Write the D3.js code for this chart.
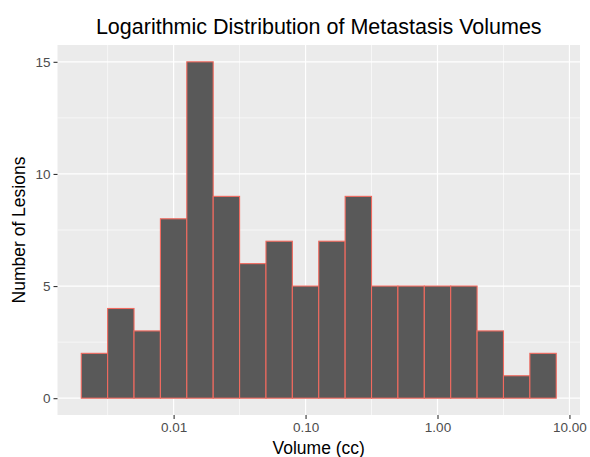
<!DOCTYPE html>
<html>
<head>
<meta charset="utf-8">
<script src="https://cdn.jsdelivr.net/npm/d3@7"></script>
<style>
  html, body { margin: 0; padding: 0; background: #ffffff; }
  svg { display: block; }
  text { font-family: "Liberation Sans", Arial, Helvetica, sans-serif; }
</style>
</head>
<body>
<script>
// ---- data ----
const chartTitle = "Logarithmic Distribution of Metastasis Volumes";
const xTitle = "Volume (cc)";
const yTitle = "Number of Lesions";
const binCounts = [2, 4, 3, 8, 15, 9, 6, 7, 5, 7, 9, 5, 5, 5, 5, 3, 1, 2];
const logBinStart = -2.7;   // log10 of first bin's lower edge (cc)
const logBinWidth = 0.2;    // bin width in log10 units
const xTickValues = [0.01, 0.1, 1, 10];
const xTickLabels = ["0.01", "0.10", "1.00", "10.00"];
const xMinorValues = [Math.pow(10, -2.5), Math.pow(10, -1.5), Math.pow(10, -0.5), Math.pow(10, 0.5)];
const yTickValues = [0, 5, 10, 15];
const yMinorValues = [2.5, 7.5, 12.5];

// ---- layout ----
const W = 590, H = 457;
const panel = { left: 57.5, right: 580, top: 45, bottom: 415 };

const bins = binCounts.map((c, i) => ({
  x0: Math.pow(10, logBinStart + i * logBinWidth),
  x1: Math.pow(10, logBinStart + (i + 1) * logBinWidth),
  count: c
}));

const logMin = logBinStart, logMax = logBinStart + binCounts.length * logBinWidth;
const xPad = (logMax - logMin) * 0.05;
const x = d3.scaleLog()
  .domain([Math.pow(10, logMin - xPad), Math.pow(10, logMax + xPad)])
  .range([panel.left, panel.right]);
const yMax = d3.max(binCounts);
const yPad = yMax * 0.05;
const y = d3.scaleLinear()
  .domain([0 - yPad, yMax + yPad])
  .range([panel.bottom, panel.top]);

const svg = d3.select("body").append("svg")
  .attr("width", W).attr("height", H);

// panel background
svg.append("rect")
  .attr("x", panel.left).attr("y", panel.top)
  .attr("width", panel.right - panel.left)
  .attr("height", panel.bottom - panel.top)
  .attr("fill", "#EBEBEB");

const grid = svg.append("g");
// minor grid
grid.selectAll("line.ymin").data(yMinorValues).join("line")
  .attr("x1", panel.left).attr("x2", panel.right)
  .attr("y1", d => y(d)).attr("y2", d => y(d))
  .attr("stroke", "#ffffff").attr("stroke-width", 0.6);
grid.selectAll("line.xmin").data(xMinorValues).join("line")
  .attr("class", "xmin")
  .attr("y1", panel.top).attr("y2", panel.bottom)
  .attr("x1", d => x(d)).attr("x2", d => x(d))
  .attr("stroke", "#ffffff").attr("stroke-width", 0.6);
// major grid
grid.selectAll("line.ymaj").data(yTickValues).join("line")
  .attr("class", "ymaj")
  .attr("x1", panel.left).attr("x2", panel.right)
  .attr("y1", d => y(d)).attr("y2", d => y(d))
  .attr("stroke", "#ffffff").attr("stroke-width", 1.2);
grid.selectAll("line.xmaj").data(xTickValues).join("line")
  .attr("class", "xmaj")
  .attr("y1", panel.top).attr("y2", panel.bottom)
  .attr("x1", d => x(d)).attr("x2", d => x(d))
  .attr("stroke", "#ffffff").attr("stroke-width", 1.2);

// bars
svg.append("g").selectAll("rect").data(bins).join("rect")
  .attr("x", d => x(d.x0))
  .attr("y", d => y(d.count))
  .attr("width", d => x(d.x1) - x(d.x0))
  .attr("height", d => y(0) - y(d.count))
  .attr("fill", "#595959")
  .attr("stroke", "#F26A5F")
  .attr("stroke-width", 1.1);

// x axis
const xAxis = d3.axisBottom(x)
  .tickValues(xTickValues)
  .tickFormat((d, i) => xTickLabels[i])
  .tickSizeInner(4).tickSizeOuter(0).tickPadding(3);
const gx = svg.append("g")
  .attr("transform", `translate(0,${panel.bottom})`)
  .call(xAxis);
gx.select(".domain").remove();
gx.selectAll(".tick line").attr("stroke", "#333333").attr("stroke-width", 1.1);
gx.selectAll(".tick text")
  .attr("fill", "#4D4D4D")
  .style("font-size", "13.5px")
  .style("font-family", "'Liberation Sans', Arial, sans-serif");

// y axis
const yAxis = d3.axisLeft(y)
  .tickValues(yTickValues)
  .tickSizeInner(4).tickSizeOuter(0).tickPadding(3);
const gy = svg.append("g")
  .attr("transform", `translate(${panel.left},0)`)
  .call(yAxis);
gy.select(".domain").remove();
gy.selectAll(".tick line").attr("stroke", "#333333").attr("stroke-width", 1.1);
gy.selectAll(".tick text")
  .attr("fill", "#4D4D4D")
  .style("font-size", "13.5px")
  .style("font-family", "'Liberation Sans', Arial, sans-serif");

// titles
const cx = (panel.left + panel.right) / 2;
svg.append("text")
  .attr("x", cx).attr("y", 34)
  .attr("text-anchor", "middle")
  .attr("fill", "#000000")
  .style("font-size", "21.5px")
  .text(chartTitle);

svg.append("text")
  .attr("x", cx).attr("y", 454)
  .attr("text-anchor", "middle")
  .attr("fill", "#000000")
  .style("font-size", "17.5px")
  .text(xTitle);

svg.append("text")
  .attr("transform", `translate(25,${(panel.top + panel.bottom) / 2}) rotate(-90)`)
  .attr("text-anchor", "middle")
  .attr("fill", "#000000")
  .style("font-size", "17.5px")
  .text(yTitle);
</script>
</body>
</html>
